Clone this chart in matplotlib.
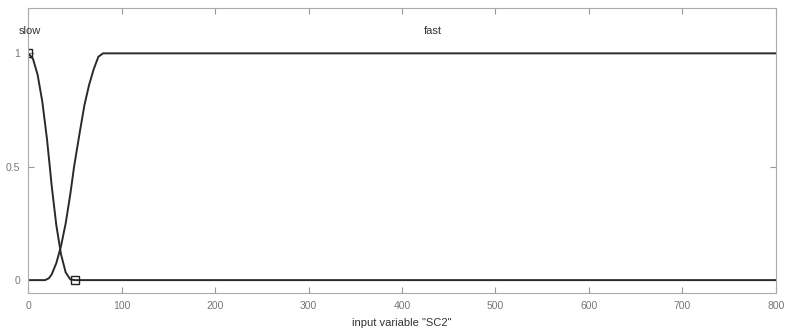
import matplotlib
matplotlib.use('Agg')
import matplotlib.pyplot as plt

plt.rcParams['font.family'] = ['Liberation Sans', 'DejaVu Sans']

# membership curves
slow_x = [0, 5, 10, 15, 20, 23, 25, 30, 35, 40, 45, 50, 800]
slow_y = [1, 0.976, 0.905, 0.787, 0.622, 0.5, 0.417, 0.242, 0.114, 0.034, 0.003, 0, 0]
fast_x = [0, 18, 22, 25, 30, 35, 40, 45, 49, 55, 60, 65, 70, 75, 80, 800]
fast_y = [0, 0, 0.008, 0.025, 0.075, 0.15, 0.25, 0.38, 0.5, 0.65, 0.77, 0.86, 0.93, 0.985, 1, 1]
marker_x = [0, 50]
marker_y = [1, 0]

mf_names = ['slow', 'fast']
name_x = [2, 433]
x_ticks = [0, 100, 200, 300, 400, 500, 600, 700, 800]
y_ticks = [0, 0.5, 1]
y_tick_labels = ['0', '0.5', '1']

fig = plt.figure(figsize=(7.86, 3.33), dpi=100)
ax = fig.add_axes([0.036, 0.12, 0.951, 0.856])

ax.plot(slow_x, slow_y, color='#2a2a2a', lw=1.4)
ax.plot(fast_x, fast_y, color='#2a2a2a', lw=1.4)
ax.plot(marker_x, marker_y, ls='none', marker='s', ms=6, mfc='none', mec='#222222', mew=1)

for name, nx in zip(mf_names, name_x):
    ax.text(nx, 1.097, name, ha='center', va='center', fontsize=8, color='#333333')

ax.set_xlim(0, 800)
ax.set_ylim(-0.057, 1.2)
ax.set_xticks(x_ticks)
ax.set_yticks(y_ticks)
ax.set_yticklabels(y_tick_labels)
ax.tick_params(direction='in', top=True, right=True, labelsize=7.5, colors='#999999',
               labelcolor='#777777', length=4, pad=6)
for s in ax.spines.values():
    s.set_color('#aaaaaa')
    s.set_linewidth(0.8)

ax.set_xlabel('input variable "SC2"', fontsize=8, color='#333333', labelpad=5)

fig.savefig('out.png', dpi=100)
